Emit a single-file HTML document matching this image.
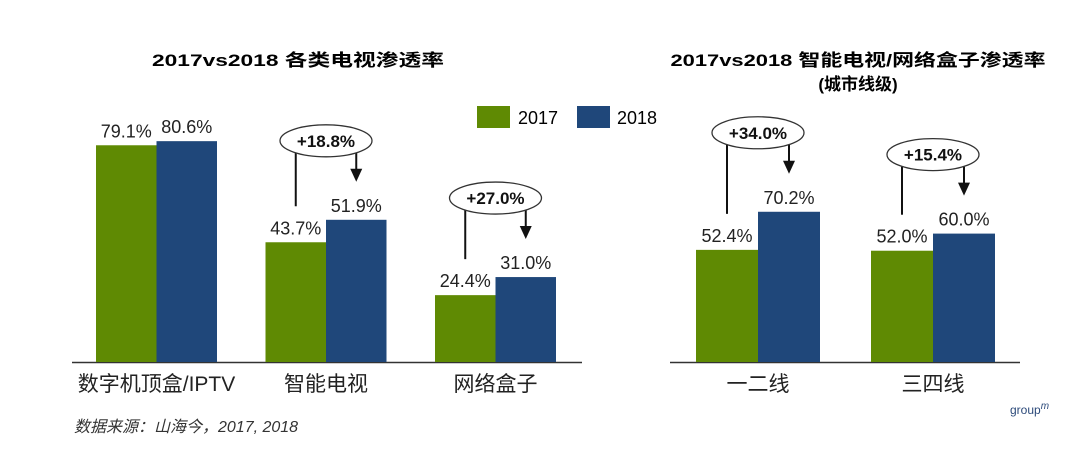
<!DOCTYPE html>
<html><head><meta charset="utf-8">
<style>
html,body{margin:0;padding:0;background:#fff;}
svg{display:block;font-family:"Liberation Sans","Noto Sans CJK SC",sans-serif;}
</style></head>
<body>
<svg id="chart" width="1080" height="453" viewBox="0 0 1080 453" xmlns="http://www.w3.org/2000/svg">
<text x="298" y="66" text-anchor="middle" font-size="17" font-weight="bold" textLength="292" lengthAdjust="spacingAndGlyphs">2017vs2018 各类电视渗透率</text>
<text x="858" y="66" text-anchor="middle" font-size="17" font-weight="bold" textLength="375" lengthAdjust="spacingAndGlyphs">2017vs2018 智能电视/网络盒子渗透率</text>
<text x="858" y="90" text-anchor="middle" font-size="17" font-weight="bold">(城市线级)</text>
<g>
<rect x="477" y="106" width="33" height="22" fill="#5f8a03"/>
<text x="518" y="124" font-size="18">2017</text>
<rect x="577" y="106" width="33" height="22" fill="#1f477a"/>
<text x="617" y="124" font-size="18">2018</text>
</g>
<g id="left"></g>
<g id="right"></g>
<text x="74" y="432" font-size="16" font-style="italic" fill="#333">数据来源：山海今，2017, 2018</text>
<text x="1010" y="414" font-size="12" fill="#2c4a7a">group<tspan font-style="italic" font-size="10" dy="-5">m</tspan></text>
</svg>
<script>
const leftCategories = ["数字机顶盒/IPTV","智能电视","网络盒子"];
const left2017 = [79.1, 43.7, 24.4];
const left2018 = [80.6, 51.9, 31.0];
const leftGrowth = [null, "+18.8%", "+27.0%"];
const rightCategories = ["一二线","三四线"];
const right2017 = [52.4, 52.0];
const right2018 = [70.2, 60.0];
const rightGrowth = ["+34.0%", "+15.4%"];

const NS="http://www.w3.org/2000/svg";
function mk(parent,tag,attrs){const e=document.createElementNS(NS,tag);for(const k in attrs)e.setAttribute(k,attrs[k]);parent.appendChild(e);return e;}

function drawChart(g, cfg, cats, a, b, growth){
  const base=362;
  const y=v=>base-v*cfg.scale;
  const line=mk(g,'line',{x1:cfg.axisX0,x2:cfg.axisX1,y1:base+0.5,y2:base+0.5,stroke:'#333','stroke-width':1.5});
  
  
  cats.forEach((c,i)=>{
    const gx=cfg.start+i*cfg.step;
    const bw=cfg.bw;
    const r1=mk(g,'rect',{x:gx,y:y(a[i]),width:bw,height:a[i]*cfg.scale,fill:'#5f8a03'});
    
    
    const r2=mk(g,'rect',{x:gx+bw,y:y(b[i]),width:bw,height:b[i]*cfg.scale,fill:'#1f477a'});
    
    
    const t1=mk(g,'text',{x:gx+bw/2,y:y(a[i])-8,'text-anchor':'middle','font-size':18,fill:'#222'});
    t1.textContent=a[i].toFixed(1)+'%';
    
    
    const t2=mk(g,'text',{x:gx+bw*1.5,y:y(b[i])-8,'text-anchor':'middle','font-size':18,fill:'#222'});
    t2.textContent=b[i].toFixed(1)+'%';
    
    
    const cl=mk(g,'text',{x:gx+bw,y:391,'text-anchor':'middle','font-size':21,fill:'#222'});
    cl.textContent=c;
    
    
    if(growth[i]){
      const top2017=y(a[i])-30, top2018=y(b[i])-30;
      const ey=Math.min(top2017,top2018)-49;
      const cx=gx+bw;
      const lx=gx+bw/2, rx=gx+bw*1.5;
      const l1=mk(g,'line',{x1:lx,x2:lx,y1:ey+12,y2:y(a[i])-36,stroke:'#111','stroke-width':2});
      
      
      const l2=mk(g,'line',{x1:rx,x2:rx,y1:ey+12,y2:y(b[i])-50,stroke:'#111','stroke-width':2});
      
      
      const ah=y(b[i])-38;
      const ar=mk(g,'polygon',{points:`${rx-6},${ah-13} ${rx+6},${ah-13} ${rx},${ah}`,fill:'#111'});
      
      
      const el=mk(g,'ellipse',{cx:cx,cy:ey,rx:46,ry:16,fill:'#fff',stroke:'#333','stroke-width':1.3});
      
      
      const gt=mk(g,'text',{x:cx,y:ey+6,'text-anchor':'middle','font-size':17,'font-weight':'bold',fill:'#111'});
      gt.textContent=growth[i];
      
      
    }
  });
}
drawChart(document.getElementById('left'),{scale:2.74,start:96,step:169.5,bw:60.5,axisX0:72,axisX1:582},leftCategories,left2017,left2018,leftGrowth);
drawChart(document.getElementById('right'),{scale:2.14,start:696,step:175,bw:62,axisX0:670,axisX1:1020},rightCategories,right2017,right2018,rightGrowth);
</script>
</body></html>
